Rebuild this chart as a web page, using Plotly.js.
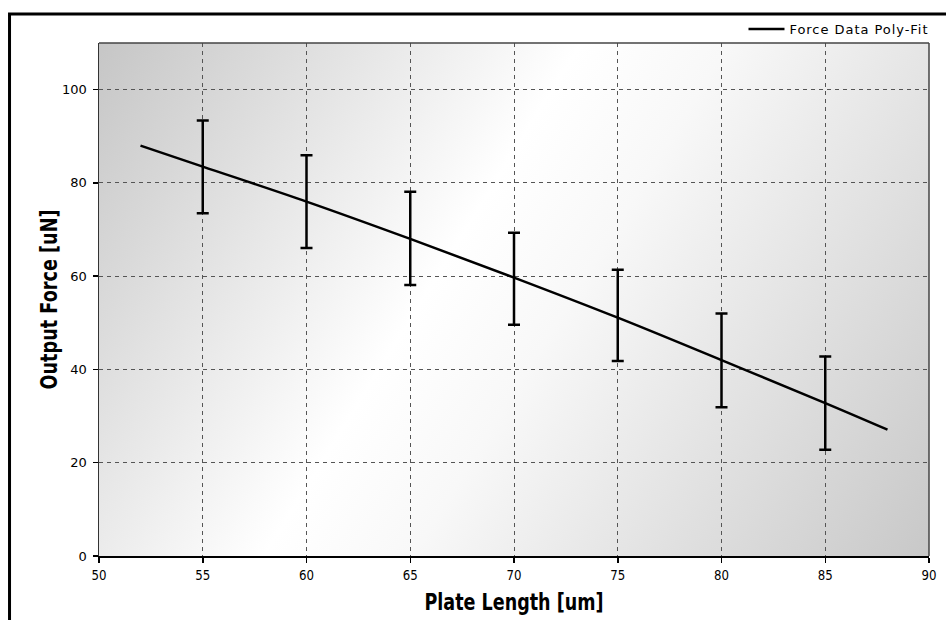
<!DOCTYPE html>
<html>
<head>
<meta charset="utf-8">
<script src="https://cdn.plot.ly/plotly-3.0.1.min.js"></script>
<style>
  html, body { margin: 0; padding: 0; background: #fff; }
  #chart { width: 946px; height: 620px; }
</style>
</head>
<body>
<div id="chart"></div>
<script>
// ---- data ----
var fitX = [52, 55, 60, 65, 70, 75, 80, 85, 88];
var fitY = [88.0, 83.5, 76.0, 68.0, 59.7, 51.1, 42.0, 32.8, 27.1];

var dataX = [55, 60, 65, 70, 75, 80, 85];
var dataY = [83.45, 76.0, 68.1, 59.45, 51.6, 41.95, 32.8];
var dataErr = [9.95, 9.95, 10.0, 9.85, 9.8, 10.05, 10.0];

var xTicks = [50, 55, 60, 65, 70, 75, 80, 85, 90];
var yTicks = [0, 20, 40, 60, 80, 100];

var legendName = "Force Data Poly-Fit";
var xTitle = "Plate Length [um]";
var yTitle = "Output Force [uN]";

// ---- background gradient for the plot area ----
function makeGradient() {
  var w = 830, h = 513;
  var c = document.createElement('canvas');
  c.width = w; c.height = h;
  var ctx = c.getContext('2d');
  var g = ctx.createLinearGradient(0, 0, w, h);
  g.addColorStop(0, '#c6c6c6');
  g.addColorStop(0.42, '#ffffff');
  g.addColorStop(0.55, '#f8f8f8');
  g.addColorStop(1, '#c8c8c8');
  ctx.fillStyle = g;
  ctx.fillRect(0, 0, w, h);
  return c.toDataURL('image/png');
}

var sans = '"DejaVu Sans", Verdana, sans-serif';

var traces = [
  {
    x: fitX, y: fitY,
    type: 'scatter', mode: 'lines',
    name: legendName,
    line: { color: '#000', width: 2.5, shape: 'spline' },
    hoverinfo: 'skip'
  },
  {
    x: dataX, y: dataY,
    type: 'scatter', mode: 'markers',
    marker: { size: 1, color: 'rgba(0,0,0,0)' },
    error_y: { type: 'data', array: dataErr, visible: true, color: '#000', thickness: 2.5, width: 6 },
    showlegend: false,
    hoverinfo: 'skip'
  }
];

var layout = {
  width: 946, height: 620,
  margin: { l: 99, r: 17, t: 43, b: 64 },
  paper_bgcolor: '#ffffff',
  plot_bgcolor: 'rgba(0,0,0,0)',
  showlegend: true,
  legend: {
    x: 0.7765, xanchor: 'left',
    y: 1.027, yanchor: 'middle',
    bgcolor: 'rgba(0,0,0,0)',
    font: { family: sans, size: 13, color: '#000' },
    itemwidth: 36
  },
  xaxis: {
    range: [50, 90],
    tickvals: xTicks,
    ticktext: xTicks.map(String),
    showgrid: true,
    gridcolor: '#555',
    gridwidth: 1,
    griddash: '4px,4px',
    showline: true, linecolor: '#000', linewidth: 2,
    ticks: 'outside', ticklen: 5, tickwidth: 1.5, tickcolor: '#000',
    zeroline: false,
    tickfont: { family: sans, size: 14, color: '#000' },
    title: { text: xTitle, standoff: 12, font: { family: sans, size: 23, color: '#000', weight: 'bold' } },
    fixedrange: true
  },
  yaxis: {
    range: [0, 110],
    tickvals: yTicks,
    ticktext: yTicks.map(String),
    showgrid: true,
    gridcolor: '#555',
    gridwidth: 1,
    griddash: '4px,4px',
    showline: true, linecolor: '#333', linewidth: 1.5,
    ticks: 'outside', ticklen: 5, tickwidth: 1.5, tickcolor: '#000',
    ticklabelstandoff: 3,
    zeroline: false,
    tickfont: { family: sans, size: 13, color: '#000' },
    title: { text: yTitle, standoff: 2, font: { family: sans, size: 23, color: '#000', weight: 'bold' } },
    fixedrange: true
  },
  images: [{
    source: makeGradient(),
    xref: 'paper', yref: 'paper',
    x: 0, y: 1, sizex: 1, sizey: 1,
    xanchor: 'left', yanchor: 'top',
    sizing: 'stretch', layer: 'below'
  }],
  shapes: [
    { type: 'rect', xref: 'paper', yref: 'paper',
      x0: -0.1078, x1: 1.04, y0: -0.17, y1: 1.0565,
      line: { color: '#000', width: 3 }, fillcolor: 'rgba(0,0,0,0)', layer: 'above' },
    { type: 'line', xref: 'paper', yref: 'paper', x0: 0, x1: 1, y0: 1, y1: 1,
      line: { color: '#444', width: 1.5 }, layer: 'above' },
    { type: 'line', xref: 'paper', yref: 'paper', x0: 1, x1: 1, y0: 0, y1: 1,
      line: { color: '#444', width: 1.5 }, layer: 'above' }
  ]
};

function fitText(sel, len, mode) {
  document.querySelectorAll(sel).forEach(function (t) {
    t.setAttribute('textLength', len);
    t.setAttribute('lengthAdjust', mode || 'spacingAndGlyphs');
  });
}

Plotly.newPlot('chart', traces, layout, { displayModeBar: false, staticPlot: true }).then(function () {
  fitText('#chart .xtitle', 179);
  fitText('#chart .ytitle', 180);
  document.querySelectorAll('#chart .xtick text').forEach(function (t) {
    t.setAttribute('textLength', Math.round(t.getComputedTextLength() * 0.82));
    t.setAttribute('lengthAdjust', 'spacingAndGlyphs');
  });
  // legend text spread to the reference width, without clipping
  document.querySelectorAll('#chart .legend, #chart .legend [clip-path]').forEach(function (e) {
    e.removeAttribute('clip-path');
  });
  fitText('#chart .legendtext', 138, 'spacing');
  var yt = document.querySelector('#chart .g-ytitle');
  if (yt) yt.setAttribute('transform', 'translate(4,0)');
});
</script>
</body>
</html>
